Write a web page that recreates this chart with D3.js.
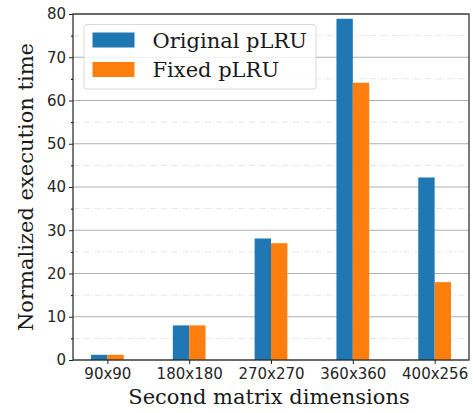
<!DOCTYPE html>
<html lang="en">
<head>
    <meta charset="UTF-8">
    <script src="https://cdn.jsdelivr.net/npm/d3@7"></script>
    <title>Normalized execution time</title>
    <style>
        body { margin: 0; background: white; }
        .tick text { font-family: "DejaVu Sans", sans-serif; font-size: 15px; fill: #262626; }
        .axis-label { font-family: "DejaVu Serif", serif; font-size: 21px; fill: #1a1a1a; }
        .legend text { font-family: "DejaVu Serif", serif; font-size: 21px; fill: #1a1a1a; }
    </style>
</head>
<body>
    <div id="chart"></div>
    <script>
        // Data
        const categories = ["90x90", "180x180", "270x270", "360x360", "400x256"];
        const seriesNames = ["Original pLRU", "Fixed pLRU"];
        const originalValues = [1.2, 8.0, 28.1, 78.9, 42.2];
        const fixedValues = [1.2, 8.0, 27.0, 64.1, 18.0];
        const yTicks = [0, 10, 20, 30, 40, 50, 60, 70, 80];
        const yMinorTicks = [5, 15, 25, 35, 45, 55, 65, 75];
        const colors = ["#1f77b4", "#ff7f0e"];

        const width = 473, height = 413;
        const margin = { top: 14, right: 4, bottom: 53, left: 73 };
        const innerW = width - margin.left - margin.right;
        const innerH = height - margin.top - margin.bottom;
        const barWidth = 0.2;

        const svg = d3.select("#chart").append("svg")
            .attr("width", width)
            .attr("height", height);

        const g = svg.append("g").attr("transform", `translate(${margin.left},${margin.top})`);

        // matplotlib-style x: index positions with 5% margins around bar extents
        const x = d3.scaleLinear().domain([-0.42, categories.length - 1 + 0.42]).range([0, innerW]);
        const y = d3.scaleLinear().domain([0, 80]).range([innerH, 0]);

        // minor grid (dash-dot)
        g.selectAll(".minor-grid").data(yMinorTicks).enter().append("line")
            .attr("x1", 0).attr("x2", innerW)
            .attr("y1", d => y(d)).attr("y2", d => y(d))
            .attr("stroke", "#e6e6e6").attr("stroke-width", 1)
            .attr("stroke-dasharray", "6,2,1,2");

        // major grid
        g.selectAll(".major-grid").data(yTicks).enter().append("line")
            .attr("x1", 0).attr("x2", innerW)
            .attr("y1", d => y(d)).attr("y2", d => y(d))
            .attr("stroke", "#b0b0b0").attr("stroke-width", 1);

        // bars
        const series = [originalValues, fixedValues];
        series.forEach((vals, s) => {
            g.selectAll(".bar" + s).data(vals).enter().append("rect")
                .attr("x", (d, i) => x(i - barWidth + s * barWidth))
                .attr("width", x(barWidth) - x(0))
                .attr("y", d => y(d))
                .attr("height", d => y(0) - y(d))
                .attr("fill", colors[s]);
        });

        // axes
        const yAxis = g.append("g")
            .call(d3.axisLeft(y).tickValues(yTicks).tickSize(4).tickPadding(3));
        g.append("g")
            .call(d3.axisLeft(y).tickValues(yMinorTicks).tickSize(2).tickFormat(""))
            .select(".domain").remove();
        const xAxis = g.append("g")
            .attr("transform", `translate(0,${innerH})`)
            .call(d3.axisBottom(x).tickValues(d3.range(categories.length))
                .tickFormat(i => categories[i]).tickSize(4).tickPadding(4));
        [yAxis, xAxis].forEach(a => {
            a.select(".domain").remove();
            a.selectAll(".tick line").attr("stroke", "#222");
        });

        // frame
        g.append("rect")
            .attr("width", innerW).attr("height", innerH)
            .attr("fill", "none").attr("stroke", "#222").attr("stroke-width", 1.2);

        // axis labels
        svg.append("text").attr("class", "axis-label")
            .attr("text-anchor", "middle")
            .attr("x", margin.left + innerW / 2 - 2).attr("y", 404)
            .text("Second matrix dimensions");
        svg.append("text").attr("class", "axis-label")
            .attr("text-anchor", "middle")
            .attr("transform", `translate(33,${margin.top + innerH / 2}) rotate(-90)`)
            .text("Normalized execution time");

        // legend
        const legend = svg.append("g").attr("class", "legend");
        legend.append("rect")
            .attr("x", 84).attr("y", 24.5).attr("width", 232).attr("height", 64.5)
            .attr("rx", 3).attr("fill", "white").attr("fill-opacity", 0.8)
            .attr("stroke", "#d9d9d9");
        seriesNames.forEach((name, i) => {
            legend.append("rect")
                .attr("x", 92.5).attr("y", 32.5 + i * 29.5)
                .attr("width", 42).attr("height", 15)
                .attr("fill", colors[i]);
            legend.append("text")
                .attr("x", 152.5).attr("y", 47.5 + i * 29.5)
                .text(name);
        });
    </script>
</body>
</html>
